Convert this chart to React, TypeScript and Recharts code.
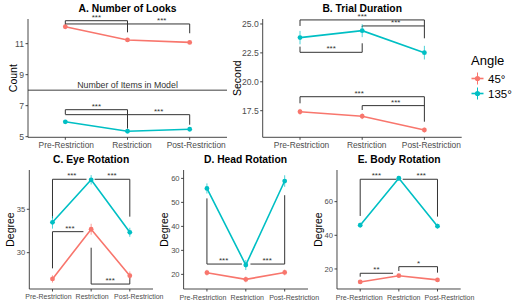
import React from "react";
import {
  LineChart,
  Line,
  XAxis,
  YAxis,
  ErrorBar,
  ReferenceLine,
  ReferenceDot,
  Legend,
} from "recharts";

const categories = ["Pre-Restriction", "Restriction", "Post-Restriction"];
const angleNames = ["45°", "135°"];

// A. Number of Looks
const looks45 = [12.09, 11.24, 11.08];
const looks45Err = [0.06, 0.05, 0.05];
const looks135 = [5.96, 5.35, 5.48];
const looks135Err = [0.05, 0.04, 0.04];
const itemsInModel = 8;

// B. Trial Duration
const dur45 = [17.41, 17.02, 15.83];
const dur45Err = [0.25, 0.25, 0.2];
const dur135 = [23.82, 24.42, 22.52];
const dur135Err = [0.58, 0.56, 0.59];

// C. Eye Rotation
const eye45 = [26.97, 32.7, 27.35];
const eye45Err = [0.42, 0.63, 0.48];
const eye135 = [33.5, 38.4, 32.35];
const eye135Err = [0.73, 0.54, 0.52];

// D. Head Rotation
const head45 = [20.7, 17.9, 20.8];
const head45Err = [1.2, 1.2, 1.2];
const head135 = [55.8, 23.9, 58.9];
const head135Err = [2.1, 2.1, 2.4];

// E. Body Rotation
const body45 = [12.3, 16.0, 13.5];
const body45Err = [1.0, 1.0, 1.0];
const body135 = [46.0, 73.9, 45.4];
const body135Err = [1.5, 1.4, 1.5];

// significance brackets: x1/x2 on category index, y = bar height, e1/e2 = tip ends
interface Bracket {
  x1: number;
  x2: number;
  y: number;
  e1: number;
  e2: number;
  label: string;
  lx: number;
}

const looksBrackets: Bracket[] = [
  { x1: 1, x2: 2, y: 12.48, e1: 12.2, e2: 11.73, label: "***", lx: 1.5 },
  { x1: 1, x2: 3, y: 12.27, e1: 12.27, e2: 11.67, label: "***", lx: 2.55 },
  { x1: 1, x2: 2, y: 6.74, e1: 6.44, e2: 5.52, label: "***", lx: 1.5 },
  { x1: 1, x2: 3, y: 6.42, e1: 6.42, e2: 5.77, label: "***", lx: 2.5 },
];
const durBrackets: Bracket[] = [
  { x1: 1, x2: 3, y: 25.35, e1: 24.83, e2: 23.76, label: "***", lx: 2 },
  { x1: 2, x2: 3, y: 24.83, e1: 24.71, e2: 24.83, label: "***", lx: 2.54 },
  { x1: 1, x2: 2, y: 22.55, e1: 23.04, e2: 23.33, label: "***", lx: 1.5 },
  { x1: 1, x2: 3, y: 18.71, e1: 18.14, e2: 16.55, label: "***", lx: 1.95 },
  { x1: 2, x2: 3, y: 17.94, e1: 17.56, e2: 17.94, label: "***", lx: 2.54 },
];
const eyeBrackets: Bracket[] = [
  { x1: 1, x2: 1.88, y: 38.46, e1: 33.96, e2: 38.46, label: "***", lx: 1.5 },
  { x1: 2.09, x2: 3, y: 38.46, e1: 38.46, e2: 34.15, label: "***", lx: 2.54 },
  { x1: 1, x2: 1.8, y: 32.42, e1: 28.19, e2: 32.42, label: "***", lx: 1.45 },
  { x1: 2, x2: 3, y: 26.38, e1: 30.57, e2: 27.42, label: "***", lx: 2.49 },
];
const headBrackets: Bracket[] = [
  { x1: 1, x2: 1.9, y: 24.3, e1: 51.67, e2: 24.3, label: "***", lx: 1.43 },
  { x1: 2.12, x2: 3, y: 24.3, e1: 24.3, e2: 53.0, label: "***", lx: 2.55 },
];
const bodyBrackets: Bracket[] = [
  { x1: 1, x2: 1.94, y: 73.3, e1: 51.5, e2: 73.3, label: "***", lx: 1.42 },
  { x1: 2.1, x2: 3, y: 73.3, e1: 73.3, e2: 51.1, label: "***", lx: 2.58 },
  { x1: 1, x2: 1.85, y: 17.44, e1: 15.42, e2: 17.44, label: "**", lx: 1.42 },
  { x1: 2, x2: 3, y: 21.37, e1: 18.8, e2: 17.8, label: "*", lx: 2.51 },
];

const RED = "#F8766D";
const TEAL = "#00BFC4";
const INK = "#333333";
const FONT = '"Liberation Sans", Arial, Helvetica, sans-serif';

const buildRows = (a: number[], ae: number[], b: number[], be: number[]) =>
  categories.map((_, i) => ({ x: i + 1, v45: a[i], e45: ae[i], v135: b[i], e135: be[i] }));

interface Box {
  left: number;
  top: number;
  w: number;
  h: number;
  mt: number;
  mr: number;
  yw: number;
  xh: number;
}

const renderBrackets = (list: Bracket[], prefix: string) =>
  list.flatMap((b, i) => {
    const k = `${prefix}-${i}`;
    const out = [
      <ReferenceLine
        key={`${k}-h`}
        segment={[{ x: b.x1, y: b.y }, { x: b.x2, y: b.y }]}
        stroke={INK}
        strokeWidth={1}
        ifOverflow="visible"
      />,
      <ReferenceDot
        key={`${k}-t`}
        x={b.lx}
        y={b.y}
        r={0}
        ifOverflow="visible"
        shape={(p: any) => (
          <text x={p.cx} y={p.cy - 1} textAnchor="middle" fontSize={8} fill={INK}>
            {b.label}
          </text>
        )}
      />,
    ];
    if (b.e1 !== b.y)
      out.push(
        <ReferenceLine
          key={`${k}-l`}
          segment={[{ x: b.x1, y: b.y }, { x: b.x1, y: b.e1 }]}
          stroke={INK}
          strokeWidth={1}
          ifOverflow="visible"
        />
      );
    if (b.e2 !== b.y)
      out.push(
        <ReferenceLine
          key={`${k}-r`}
          segment={[{ x: b.x2, y: b.y }, { x: b.x2, y: b.e2 }]}
          stroke={INK}
          strokeWidth={1}
          ifOverflow="visible"
        />
      );
    return out;
  });

const renderLegend = (props: any) => {
  const items = [...(props.payload || [])].sort(
    (a: any, b: any) => angleNames.indexOf(a.value) - angleNames.indexOf(b.value)
  );
  return (
    <div style={{ fontFamily: FONT, color: "#000", textAlign: "left" }}>
      <div style={{ fontSize: 13, lineHeight: "15px", paddingLeft: 3, marginBottom: 3 }}>Angle</div>
      {items.map((it: any) => (
        <div key={it.value} style={{ display: "flex", alignItems: "center", height: 15 }}>
          <svg width={17} height={15}>
            <line x1={3.5} x2={15.5} y1={7.5} y2={7.5} stroke={it.color} strokeWidth={1.6} />
            <line x1={9.5} x2={9.5} y1={1.5} y2={13.5} stroke={it.color} strokeWidth={1} />
            <circle cx={9.5} cy={7.5} r={2.6} fill={it.color} />
          </svg>
          <span style={{ fontSize: 11.5, marginLeft: 3 }}>{it.value}</span>
        </div>
      ))}
    </div>
  );
};

interface PanelProps {
  box: Box;
  title: string;
  yLabel: string;
  domain: [number, number];
  ticks: number[];
  data: any[];
  brackets: Bracket[];
  xFont: number;
  yFont: number;
  xTickMargin: number;
  xShift: number[];
  fmt?: (v: number) => string;
  legend?: boolean;
  extra?: React.ReactNode;
}

function Panel({ box, title, yLabel, domain, ticks, data, brackets, xFont, yFont, xTickMargin, xShift, fmt, legend, extra }: PanelProps) {
  const plotLeft = box.left + box.yw;
  const plotRight = box.left + box.w - box.mr - (legend ? 55 : 0);
  const renderTick = (p: any) => {
    const i = Math.round(p.payload.value) - 1;
    return (
      <text x={p.x + (xShift[i] || 0)} y={p.y} dy="0.71em" textAnchor="middle" fontSize={xFont} fill="#4D4D4D">
        {categories[i]}
      </text>
    );
  };
  return (
    <>
      <div
        style={{
          position: "absolute",
          left: plotLeft,
          width: plotRight - plotLeft,
          top: box.top + box.mt - 16.5,
          textAlign: "center",
          fontWeight: "bold",
          fontSize: 10.3,
          lineHeight: "12px",
          color: "#000",
        }}
      >
        {title}
      </div>
      <div style={{ position: "absolute", left: box.left, top: box.top }}>
        <LineChart
          width={box.w}
          height={box.h}
          data={data}
          margin={{ top: box.mt, right: box.mr, bottom: 0, left: 0 }}
        >
          <XAxis
            type="number"
            dataKey="x"
            domain={[0.4, 3.6]}
            ticks={[1, 2, 3]}
            interval={0}
            allowDataOverflow
            height={box.xh}
            tickSize={2.5}
            tickMargin={xTickMargin}
            tick={renderTick}
            axisLine={{ stroke: INK, strokeWidth: 0.9 }}
            tickLine={{ stroke: INK, strokeWidth: 0.9 }}
          />
          <YAxis
            type="number"
            domain={domain}
            ticks={ticks}
            allowDataOverflow
            width={box.yw}
            tickSize={2.5}
            tickMargin={1.5}
            tickFormatter={fmt}
            tick={{ fontSize: yFont, fill: "#4D4D4D" }}
            axisLine={{ stroke: INK, strokeWidth: 0.9 }}
            tickLine={{ stroke: INK, strokeWidth: 0.9 }}
            label={{ value: yLabel, angle: -90, position: "center", fontSize: 10.5, fill: "#000" }}
          />
          {extra}
          {renderBrackets(brackets, title)}
          <Line
            dataKey="v45"
            name={angleNames[0]}
            stroke={RED}
            strokeWidth={1.6}
            dot={{ r: 2.4, fill: RED, stroke: RED, strokeWidth: 0 }}
            activeDot={false}
            isAnimationActive={false}
          >
            <ErrorBar dataKey="e45" width={0} stroke={RED} strokeWidth={1} strokeOpacity={0.7} direction="y" />
          </Line>
          <Line
            dataKey="v135"
            name={angleNames[1]}
            stroke={TEAL}
            strokeWidth={1.6}
            dot={{ r: 2.4, fill: TEAL, stroke: TEAL, strokeWidth: 0 }}
            activeDot={false}
            isAnimationActive={false}
          >
            <ErrorBar dataKey="e135" width={0} stroke={TEAL} strokeWidth={1} strokeOpacity={0.7} direction="y" />
          </Line>
          {legend && (
            <Legend
              layout="vertical"
              align="right"
              verticalAlign="middle"
              content={renderLegend}
              wrapperStyle={{ left: 257, top: 53, right: "auto", width: 55 }}
            />
          )}
        </LineChart>
      </div>
    </>
  );
}

export default function App() {
  const oneDec = (v: number) => v.toFixed(1);
  return (
    <div
      style={{
        position: "absolute",
        left: 0,
        top: 0,
        width: 520,
        height: 308,
        background: "#fff",
        fontFamily: FONT,
        overflow: "hidden",
      }}
    >
      <Panel
        box={{ left: -2, top: 0, w: 242, h: 155, mt: 19, mr: 13, yw: 30, xh: 17.7 }}
        title="A. Number of Looks"
        yLabel="Count"
        domain={[4.96, 12.59]}
        ticks={[5, 7, 9, 11]}
        data={buildRows(looks45, looks45Err, looks135, looks135Err)}
        brackets={looksBrackets}
        xFont={8.4}
        yFont={8.6}
        xTickMargin={2}
        xShift={[1, 4.5, 6.5]}
        extra={
          <ReferenceLine
            y={itemsInModel}
            stroke="#7F7F7F"
            strokeWidth={1.5}
            label={{ value: "Number of Items in Model", position: "top", offset: 2, fontSize: 8.8, fill: "#333" }}
          />
        }
      />
      <Panel
        box={{ left: 211, top: 0, w: 309, h: 155, mt: 19, mr: 3.3, yw: 51.7, xh: 17.7 }}
        title="B. Trial Duration"
        yLabel="Second"
        domain={[15.2, 25.43]}
        ticks={[17.5, 20, 22.5, 25]}
        fmt={oneDec}
        data={buildRows(dur45, dur45Err, dur135, dur135Err)}
        brackets={durBrackets}
        xFont={8.4}
        yFont={8.6}
        xTickMargin={2}
        xShift={[1.5, 4.5, 7]}
        legend
      />
      <Panel
        box={{ left: -9, top: 150, w: 187, h: 158, mt: 20, mr: 25, yw: 38.3, xh: 19 }}
        title="C. Eye Rotation"
        yLabel="Degree"
        domain={[25.81, 39.53]}
        ticks={[30, 35]}
        data={buildRows(eye45, eye45Err, eye135, eye135Err)}
        brackets={eyeBrackets}
        xFont={7}
        yFont={7.6}
        xTickMargin={3}
        xShift={[-4, 1, 9]}
      />
      <Panel
        box={{ left: 144.7, top: 150, w: 188, h: 158, mt: 20, mr: 25, yw: 38.6, xh: 19 }}
        title="D. Head Rotation"
        yLabel="Degree"
        domain={[13.9, 63.5]}
        ticks={[20, 30, 40, 50, 60]}
        data={buildRows(head45, head45Err, head135, head135Err)}
        brackets={headBrackets}
        xFont={7.1}
        yFont={7.6}
        xTickMargin={3}
        xShift={[-4, 1.5, 9.5]}
      />
      <Panel
        box={{ left: 299.3, top: 150, w: 186.7, h: 158, mt: 20, mr: 25, yw: 38, xh: 19 }}
        title="E. Body Rotation"
        yLabel="Degree"
        domain={[8.1, 78.8]}
        ticks={[20, 40, 60]}
        data={buildRows(body45, body45Err, body135, body135Err)}
        brackets={bodyBrackets}
        xFont={7.1}
        yFont={7.6}
        xTickMargin={3}
        xShift={[-1, 5, 12]}
      />
    </div>
  );
}
